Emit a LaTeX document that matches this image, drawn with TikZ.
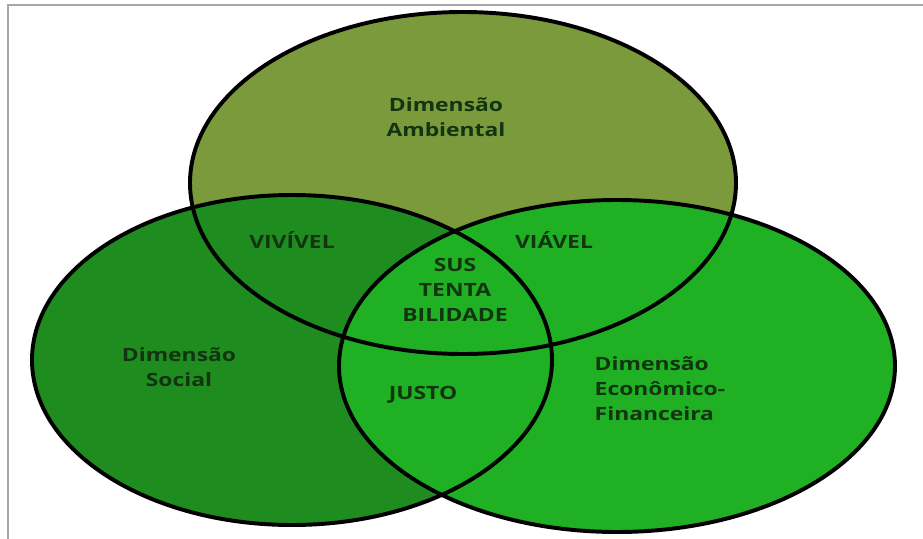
\documentclass[tikz,border=0pt]{standalone}
\usepackage{fontspec}
\setmainfont[FakeStretch=1.25]{Open Sans}
\definecolor{ambgreen}{HTML}{7A9A3B}
\definecolor{socgreen}{HTML}{1F8C1F}
\definecolor{ecogreen}{HTML}{20B023}
\definecolor{txtgreen}{HTML}{123410}

\begin{document}
\begin{tikzpicture}[x=0.025cm,y=-0.025cm,
  set/.style={draw=black,line width=2.8pt},
  txt/.style={text=txtgreen,font=\bfseries\fontsize{13}{17.8}\selectfont,inner sep=0pt}]
 \useasboundingbox (0,0) rectangle (923,539);
 \fill[white] (0,0) rectangle (923,539);
 \draw[black!35,line width=0.8pt] (8,539) -- (8,5) -- (923,5);
 % centres of the three sets
 \coordinate (amb) at (463,183);
 \coordinate (soc) at (292,360);
 \coordinate (eco) at (617,366);
 % fills first, outlines on top
 \fill[ambgreen] (amb) ellipse [x radius=273, y radius=171];
 \fill[socgreen] (soc) ellipse [x radius=260, y radius=165];
 \fill[ecogreen] (eco) ellipse [x radius=278, y radius=166];
 \draw[set] (amb) ellipse [x radius=273, y radius=171];
 \draw[set] (soc) ellipse [x radius=260, y radius=165];
 \draw[set] (eco) ellipse [x radius=278, y radius=166];
 % labels
 \node[txt,align=center] (ambiental) at (446,117) {Dimensão\\Ambiental};
 \node[txt,align=center] (social) at (179,367) {Dimensão\\Social};
 \node[txt,align=left] (economico) at (660,389) {Dimensão\\Econômico-\\Financeira};
 \node[txt] (vivivel) at (292,240) {VIVÍVEL};
 \node[txt] (viavel) at (554,240) {VIÁVEL};
 \node[txt,align=center] (sus) at (455,290) {SUS\\TENTA\\BILIDADE};
 \node[txt] (justo) at (423,395) {JUSTO};
\end{tikzpicture}
\end{document}
